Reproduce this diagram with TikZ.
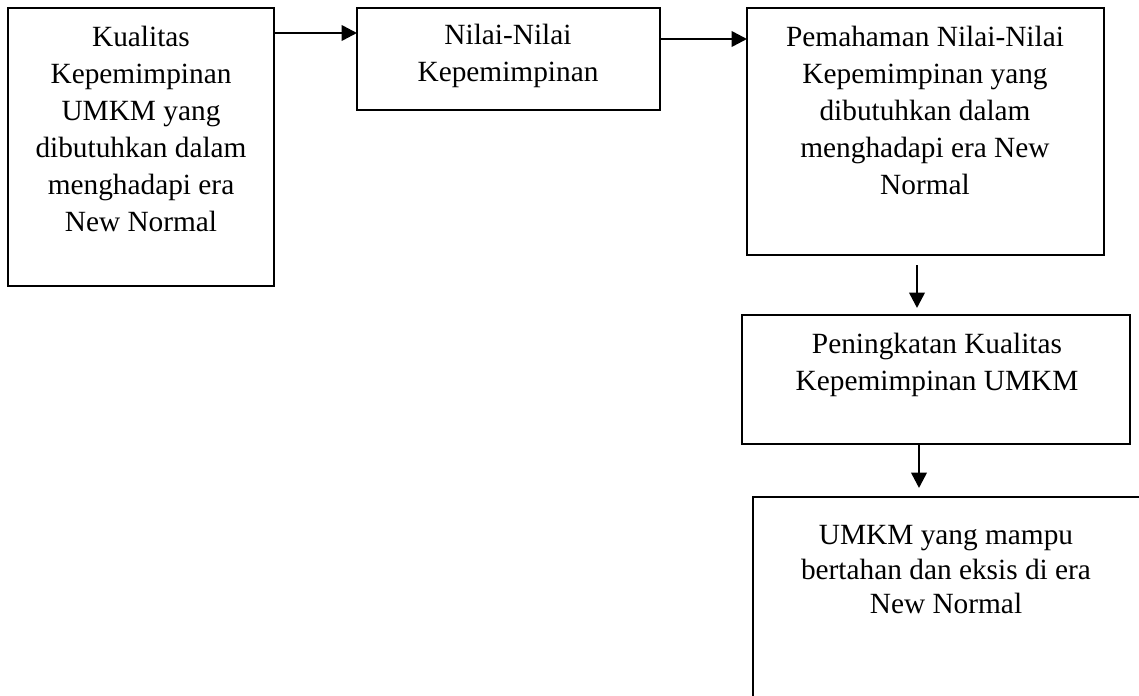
\documentclass[tikz,border=0pt]{standalone}
\usepackage{fontspec}
\setmainfont{Liberation Serif}
\usetikzlibrary{arrows.meta}
\begin{document}
\begin{tikzpicture}[x=0.75pt,y=-0.75pt,
  box/.style={draw,line width=1.3pt,inner sep=0pt,outer sep=0pt},
  txt/.style={font=\fontsize{22}{27.75}\selectfont,align=center,anchor=north,inner sep=0pt},
  arr/.style={line width=1.9pt,-{Triangle[length=11.5pt,width=11.5pt]}}]
\useasboundingbox (0,0) rectangle (1139,696);
\clip (0,0) rectangle (1139,696);
\node[box,minimum width=199.5pt,minimum height=208.5pt] (b1) at (141,147) {};
\node[box,minimum width=227.25pt,minimum height=76.5pt] (b2) at (508.5,59) {};
\node[box,minimum width=267.75pt,minimum height=185.25pt] (b3) at (925.5,131.5) {};
\node[box,minimum width=291pt,minimum height=96.75pt] (b4) at (936,379.5) {};
\node[box,minimum width=297.75pt,minimum height=182.25pt] (b5) at (951.5,618.5) {};
\node[txt] (t1) at (141,26) {Kualitas\\Kepemimpinan\\UMKM yang\\dibutuhkan dalam\\menghadapi era\\New Normal};
\node[txt] (t2) at (508,24) {Nilai-Nilai\\Kepemimpinan};
\node[txt] (t3) at (925,26) {Pemahaman Nilai-Nilai\\Kepemimpinan yang\\dibutuhkan dalam\\menghadapi era New\\Normal};
\node[txt] (t4) at (937,333) {Peningkatan Kualitas\\Kepemimpinan UMKM};
\node[txt,font=\fontsize{22}{26}\selectfont] (t5) at (946,525) {UMKM yang mampu\\bertahan dan eksis di era\\New Normal};
\draw[arr] (b1.east |- 0,33) -- (b2.west |- 0,33);
\draw[arr] (b2.east |- 0,39) -- (b3.west |- 0,39);
\draw[arr,shorten <=7.5pt,shorten >=5.25pt] (b3.south -| 917,0) -- (b4.north -| 917,0);
\draw[arr,shorten >=6.75pt] (b4.south -| 919,0) -- (b5.north -| 919,0);
\end{tikzpicture}
\end{document}
